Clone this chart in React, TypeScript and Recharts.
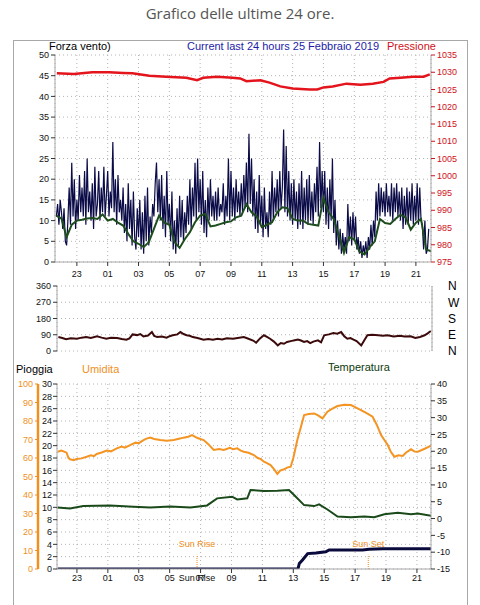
import React from "react";
import { LineChart, Line, XAxis, YAxis, CartesianGrid, ReferenceLine } from "recharts";

// Weather station: last 24 hours. Time is in hours from midnight of the 24th
// (23 = 23:00, 25 = 01:00 of the 25th, 45 = 21:00).

const FONT = "'Liberation Sans', Arial, sans-serif";

const hourTicks = [23, 25, 27, 29, 31, 33, 35, 37, 39, 41, 43, 45];
const hourLabels = ["23", "01", "03", "05", "07", "09", "11", "13", "15", "17", "19", "21"];

// wind gust, one reading every 5 minutes from 21:40
const GUST_START = 21 + 40 / 60;
const gust = [
  11, 14, 9, 15,
  12, 8, 13, 5, 4, 10, 18, 9, 24, 11, 20, 8,
  15, 10, 21, 12, 18, 11, 22, 9, 25, 12, 17, 10,
  19, 8, 23, 11, 14, 22, 10, 18, 12, 23, 11, 16,
  22, 11, 17, 13, 29, 12, 20, 9, 21, 12, 15, 10,
  18, 7, 14, 5, 19, 8, 15, 4, 17, 6, 3, 13,
  6, 15, 3, 12, 2, 16, 5, 18, 4, 11, 7, 14,
  11, 19, 24, 12, 20, 10, 21, 8, 16, 6, 22, 9,
  14, 5, 17, 3, 10, 2, 13, 4, 16, 6, 15, 5,
  12, 7, 16, 9, 20, 8, 18, 11, 24, 10, 25, 12,
  20, 9, 22, 7, 15, 6, 18, 10, 20, 11, 16, 10,
  17, 10, 18, 11, 14, 12, 19, 9, 16, 11, 25, 10,
  22, 11, 18, 10, 20, 12, 17, 11, 19, 12, 21, 13,
  24, 12, 31, 14, 25, 11, 20, 8, 17, 7, 21, 9,
  16, 6, 18, 8, 12, 6, 17, 9, 22, 10, 18, 12,
  20, 11, 22, 13, 18, 32, 12, 28, 11, 22, 10, 19,
  9, 20, 10, 17, 8, 19, 9, 22, 8, 18, 10, 20,
  9, 21, 10, 17, 9, 19, 12, 23, 11, 29, 13, 22,
  12, 22, 9, 18, 8, 20, 10, 25, 7, 15, 4, 10,
  3, 8, 2, 7, 3, 6, 2, 14, 5, 11, 4, 12,
  5, 11, 3, 6, 2, 5, 1, 4, 2, 5, 1, 6,
  3, 9, 4, 10, 6, 17, 10, 19, 11, 18, 12, 17,
  11, 19, 12, 16, 11, 19, 10, 18, 12, 19, 11, 17,
  10, 18, 8, 16, 9, 18, 9, 17, 10, 19, 9, 16,
  10, 19, 9, 18, 10, 9, 3, 10, 2, 3, 8,
];

// average wind, one reading every 20 minutes from 21:40
const AVG_START = 21 + 40 / 60;
const windAvg = [
  11.2, 10.5, 6, 9, 10, 10.2, 10.5, 10.6, 10.4, 11.5, 10, 10.4, 9.5, 8.8, 6.8, 5,
  4.4, 3.6, 4.8, 8, 11.2, 9.5, 9, 4.8, 3.4, 5.5, 7.2, 9.6, 11.2, 11.6, 8.6, 8.8,
  9.2, 9.6, 9.8, 10.8, 11.2, 14, 12, 11, 8.4, 9, 9.6, 12, 13.2, 13, 10.4, 10,
  10, 9.2, 9, 8.8, 15.5, 12, 10.4, 6.4, 2.2, 6, 5.5, 2.5, 1.8, 3.6, 5, 10.4,
  9.4, 9.2, 10.4, 11.4, 10.8, 7.8, 9.5, 10.4, 3, 2.6,
];

const pressTime = [21.7, 22.8, 24.0, 25.1, 26.0, 26.6, 27.7, 28.8, 30.1, 30.8, 31.2, 32.1, 33.1, 33.6, 34.0, 34.9, 35.5, 36.2, 37.0, 38.1, 38.6, 39.0, 39.6, 40.5, 41.4, 42.2, 42.9, 43.3, 44.0, 44.8, 45.5, 45.9];
const pressure = [1029.7, 1029.5, 1030.0, 1030.0, 1029.8, 1029.7, 1029.0, 1028.7, 1028.4, 1027.7, 1028.4, 1028.7, 1028.4, 1028.2, 1027.4, 1027.7, 1027.0, 1025.9, 1025.3, 1025.0, 1025.0, 1025.6, 1025.9, 1026.7, 1026.4, 1026.7, 1027.2, 1028.2, 1028.4, 1028.7, 1028.7, 1029.4];

const dirTime = [21.8, 22.05, 22.3, 22.6, 23.0, 23.3, 23.6, 23.9, 24.3, 24.6, 24.9, 25.2, 25.6, 25.9, 26.2, 26.4, 26.6, 26.9, 27.1, 27.3, 27.6, 27.85, 28.0, 28.2, 28.5, 28.8, 29.0, 29.2, 29.5, 29.7, 29.9, 30.1, 30.3, 30.5, 30.8, 31.2, 31.5, 31.8, 32.1, 32.4, 32.7, 33.1, 33.4, 33.8, 34.1, 34.4, 34.6, 34.85, 35.1, 35.3, 35.5, 35.75, 36.0, 36.2, 36.4, 36.6, 36.9, 37.1, 37.3, 37.5, 37.7, 37.9, 38.1, 38.3, 38.6, 38.8, 39.0, 39.3, 39.6, 39.85, 40.1, 40.3, 40.5, 40.7, 40.9, 41.1, 41.4, 41.6, 41.8, 42.1, 42.5, 42.8, 43.1, 43.5, 43.9, 44.2, 44.6, 44.9, 45.2, 45.5, 45.7, 45.9];
const direction = [77, 72, 65, 70, 68, 74, 77, 72, 81, 74, 68, 73, 72, 66, 63, 70, 92, 88, 94, 81, 86, 105, 84, 77, 80, 74, 82, 87, 92, 105, 94, 87, 84, 77, 72, 63, 66, 62, 68, 64, 70, 68, 72, 77, 68, 58, 46, 70, 87, 78, 68, 52, 31, 44, 40, 50, 56, 60, 63, 58, 50, 55, 44, 52, 59, 48, 87, 92, 100, 96, 105, 82, 68, 72, 63, 55, 31, 60, 87, 90, 87, 84, 87, 81, 84, 80, 81, 72, 78, 87, 98, 111];

const humTime = [21.75, 22.0, 22.33, 22.45, 22.55, 22.8, 22.98, 23.3, 23.63, 23.9, 24.1, 24.28, 24.6, 24.93, 25.2, 25.58, 25.9, 26.1, 26.44, 26.8, 27.0, 27.31, 27.5, 27.74, 28.0, 28.39, 28.8, 29.26, 29.6, 29.9, 30.2, 30.45, 30.8, 31.2, 31.5, 31.85, 32.2, 32.5, 32.9, 33.1, 33.37, 33.6, 33.8, 34.1, 34.45, 34.7, 34.9, 35.1, 35.3, 35.53, 35.75, 35.97, 36.15, 36.4, 36.6, 36.83, 37.0, 37.26, 37.5, 37.7, 38.0, 38.35, 38.6, 38.89, 39.21, 39.5, 39.86, 40.3, 40.73, 41.0, 41.38, 41.8, 42.13, 42.4, 42.68, 43.11, 43.3, 43.54, 43.8, 44.08, 44.3, 44.62, 44.85, 45.06, 45.5, 45.92];
const humidity = [63.4, 64.0, 62.9, 60.0, 59.3, 58.8, 59.5, 59.8, 60.7, 61.5, 61.0, 62.2, 63.0, 64, 63.6, 65.2, 66.2, 65.6, 67, 68.3, 68.0, 69.7, 70.5, 71, 70.3, 69.7, 69.3, 69.7, 70.4, 71, 71.5, 72.4, 70.8, 69.7, 67.5, 64.3, 64.8, 64.3, 65.5, 64.8, 65.2, 64.0, 63.4, 62.8, 61.6, 60.0, 59.4, 58, 57.2, 56.2, 54.0, 51.4, 53.2, 53.9, 54.8, 55.3, 60.0, 69.7, 77, 83.2, 83.8, 84.1, 83.0, 81.4, 85, 86.5, 88.1, 88.8, 88.6, 87.5, 85.9, 84.0, 82.3, 78, 72.4, 67, 63.5, 60.7, 61.5, 61.1, 63.0, 64.7, 63.5, 63.4, 65.0, 66.7];

const tempTime = [21.75, 22.55, 23.41, 25.14, 26.66, 27.74, 29.04, 30.34, 31.42, 32.07, 33.04, 33.37, 34.02, 34.23, 35.1, 35.97, 36.72, 37.05, 37.7, 38.35, 38.67, 39.21, 39.86, 40.73, 41.59, 42.24, 42.89, 43.76, 44.62, 45.06, 45.92];
const temperature = [3.3, 3.0, 3.7, 3.9, 3.5, 3.3, 3.6, 3.3, 3.9, 6.0, 6.5, 5.7, 6.0, 8.5, 8.2, 8.3, 8.5, 7.0, 4.0, 3.7, 4.2, 2.7, 0.6, 0.4, 0.6, 0.4, 1.3, 1.7, 1.3, 1.5, 0.8];

const rainTime = [21.75, 37.3, 37.39, 37.61, 37.93, 38.46, 39.1, 39.32, 41.48, 41.9, 42.8, 45.92];
const rain = [0, 0, 0.9, 1.5, 2.5, 2.6, 2.8, 3.1, 3.1, 3.2, 3.3, 3.3];

const SUN_RISE = 30.77;
const SUN_SET = 41.85;

const compass = ["N", "E", "S", "W", "N"];

const range = (a: number, b: number, s: number) => {
  const r: number[] = [];
  for (let v = a; v <= b + 1e-9; v += s) r.push(+v.toFixed(3));
  return r;
};

const gustData = gust.map((v, i) => ({ t: GUST_START + i / 12, v }));
const avgData = windAvg.map((v, i) => ({ t: AVG_START + i / 3, v }));
const pressData = pressure.map((v, i) => ({ t: pressTime[i], v }));
const dirData = direction.map((v, i) => ({ t: dirTime[i], v }));
const humData = humidity.map((v, i) => ({ t: humTime[i], v }));
const tempData = temperature.map((v, i) => ({ t: tempTime[i], v }));
const rainData = rain.map((v, i) => ({ t: rainTime[i], v }));

const fmtHour = (v: number) => hourLabels[hourTicks.indexOf(v)] ?? "";
const minorHours = range(22, 45.5, 0.5);

const tickFont = { fontSize: 9, fontFamily: FONT, fill: "#111" };
const frame = "#a8a8a8";
const grid = "#b4b4b4";

const TOP_DOMAIN = [21.58, 45.98];
const MID_DOMAIN = [21.71, 45.98];
const BOT_DOMAIN = [21.71, 45.91];

const RED = "#d01020";
const ORANGE = "#f0901e";

const text = (s: string, left: number, top: number, color: string, size = 11) => (
  <span
    style={{
      position: "absolute",
      left,
      top,
      color,
      fontSize: size,
      fontFamily: FONT,
      lineHeight: 1,
      whiteSpace: "nowrap",
    }}
  >
    {s}
  </span>
);

// axes stack outward in the order: id "...0" next to the plot, then "...1", "...2"
export default function App() {
  return (
    <div style={{ position: "absolute", left: 0, top: 0, width: 480, height: 605, background: "#fff", overflow: "hidden" }}>
      <div
        style={{
          position: "absolute",
          left: 0,
          width: 480,
          top: 3,
          textAlign: "center",
          fontFamily: "'Open Sans', sans-serif",
          fontSize: 15,
          color: "#555",
        }}
      >
        Grafico delle ultime 24 ore.
      </div>
      <div style={{ position: "absolute", left: 13, top: 40, width: 453, height: 600, border: `1px solid ${frame}` }} />

      {text("Forza vento)", 49, 41, "#000")}
      {text("Current last 24 hours 25 Febbraio 2019", 187, 41, "#1c1ca8")}
      {text("Pressione", 387, 41, RED)}
      {text("Pioggia", 16, 364, "#000")}
      {text("Umidita", 82, 364, ORANGE)}
      {text("Temperatura", 328, 362, "#0c3a0c")}

      {/* wind speed + pressure */}
      <div style={{ position: "absolute", left: 0, top: 0 }}>
        <LineChart width={480} height={292} margin={{ top: 55, right: 0, bottom: 0, left: 0 }}>
          <XAxis xAxisId="x1" type="number" dataKey="t" domain={TOP_DOMAIN} allowDataOverflow ticks={hourTicks} interval={0} tickFormatter={fmtHour} tick={tickFont} tickSize={4} tickMargin={5} axisLine={{ stroke: frame }} tickLine={{ stroke: "#333" }} height={30} />
          <XAxis xAxisId="x0" type="number" dataKey="t" domain={TOP_DOMAIN} allowDataOverflow ticks={minorHours} interval={0} tick={false} tickSize={2} axisLine={false} tickLine={{ stroke: "#333" }} height={0} />
          <YAxis yAxisId="l1" domain={[0, 50]} allowDataOverflow ticks={range(0, 50, 5)} interval={0} tick={tickFont} tickSize={4} tickMargin={2} axisLine={{ stroke: frame }} tickLine={{ stroke: "#333" }} width={55} />
          <YAxis yAxisId="l0" domain={[0, 50]} allowDataOverflow ticks={range(0, 50, 1)} interval={0} tick={false} tickSize={2} axisLine={false} tickLine={{ stroke: "#333" }} width={0} />
          <YAxis yAxisId="r1" orientation="right" domain={[975, 1035]} allowDataOverflow ticks={range(975, 1035, 5)} interval={0} tick={{ ...tickFont, fill: RED }} tickSize={4} tickMargin={2} axisLine={{ stroke: frame }} tickLine={{ stroke: RED }} width={49} />
          <YAxis yAxisId="r0" orientation="right" domain={[975, 1035]} allowDataOverflow ticks={range(975, 1035, 1)} interval={0} tick={false} tickSize={2} axisLine={false} tickLine={{ stroke: RED }} width={0} />
          <CartesianGrid xAxisId="x1" yAxisId="l1" stroke={grid} strokeDasharray="1 3" />
          <Line xAxisId="x1" yAxisId="r1" data={pressData} dataKey="v" type="linear" stroke="#e4141c" strokeWidth={2.5} dot={false} isAnimationActive={false} />
          <Line xAxisId="x1" yAxisId="l1" data={gustData} dataKey="v" type="linear" stroke="#0b0b48" strokeWidth={1.2} dot={false} isAnimationActive={false} />
          <Line xAxisId="x1" yAxisId="l1" data={avgData} dataKey="v" type="linear" stroke="#1e4d1e" strokeWidth={2} dot={false} isAnimationActive={false} />
        </LineChart>
      </div>

      {/* wind direction */}
      <div style={{ position: "absolute", left: 0, top: 280 }}>
        <LineChart width={480} height={80} margin={{ top: 6, right: 0, bottom: 9, left: 0 }}>
          <XAxis xAxisId="x1" type="number" dataKey="t" domain={MID_DOMAIN} allowDataOverflow ticks={hourTicks} interval={0} tick={false} tickLine={false} axisLine={{ stroke: frame }} height={0} />
          <YAxis yAxisId="l1" domain={[0, 360]} allowDataOverflow ticks={[0, 90, 180, 270, 360]} interval={0} tick={tickFont} tickSize={4} tickMargin={2} axisLine={{ stroke: frame }} tickLine={{ stroke: "#333" }} width={57} />
          <YAxis yAxisId="l0" domain={[0, 360]} allowDataOverflow ticks={range(0, 360, 30)} interval={0} tick={false} tickSize={2} axisLine={false} tickLine={{ stroke: "#333" }} width={0} />
          <YAxis yAxisId="r1" orientation="right" domain={[0, 360]} allowDataOverflow ticks={[0, 90, 180, 270, 360]} interval={0} tickFormatter={(v: number) => compass[v / 90]} tick={{ fontSize: 12, fontFamily: FONT, fill: "#000" }} tickLine={false} tickSize={0} tickMargin={16} axisLine={{ stroke: frame }} width={48} />
          <CartesianGrid xAxisId="x1" yAxisId="l1" stroke={grid} strokeDasharray="1 3" />
          <Line xAxisId="x1" yAxisId="l1" data={dirData} dataKey="v" type="linear" stroke="#3c0a0a" strokeWidth={2} dot={false} isAnimationActive={false} />
        </LineChart>
      </div>

      {/* rain, humidity, temperature */}
      <div style={{ position: "absolute", left: 0, top: 360 }}>
        <LineChart width={480} height={245} margin={{ top: 24, right: 0, bottom: 0, left: 0 }}>
          <XAxis xAxisId="x1" type="number" dataKey="t" domain={BOT_DOMAIN} allowDataOverflow ticks={hourTicks} interval={0} tickFormatter={fmtHour} tick={tickFont} tickSize={4} tickMargin={2} axisLine={{ stroke: frame }} tickLine={{ stroke: "#333" }} height={36} />
          <XAxis xAxisId="x0" type="number" dataKey="t" domain={BOT_DOMAIN} allowDataOverflow ticks={minorHours} interval={0} tick={false} tickSize={2} axisLine={false} tickLine={{ stroke: "#333" }} height={0} />
          <YAxis yAxisId="l2" domain={[0, 100]} allowDataOverflow ticks={range(0, 100, 10)} interval={0} tick={{ ...tickFont, fill: ORANGE }} tickSize={3} tickMargin={2} axisLine={{ stroke: ORANGE, strokeWidth: 2.5 }} tickLine={{ stroke: ORANGE }} width={38} />
          <YAxis yAxisId="l1" domain={[0, 30]} allowDataOverflow ticks={range(0, 30, 2)} interval={0} tick={tickFont} tickSize={4} tickMargin={1} axisLine={{ stroke: frame }} tickLine={{ stroke: "#333" }} width={19} />
          <YAxis yAxisId="l0" domain={[0, 30]} allowDataOverflow ticks={range(0, 30, 0.5)} interval={0} tick={false} tickSize={2} axisLine={false} tickLine={{ stroke: "#333" }} width={0} />
          <YAxis yAxisId="r1" orientation="right" domain={[-15, 40]} allowDataOverflow ticks={range(-15, 40, 5)} interval={0} tick={tickFont} tickSize={4} tickMargin={2} axisLine={{ stroke: frame }} tickLine={{ stroke: "#333" }} width={49} />
          <YAxis yAxisId="r0" orientation="right" domain={[-15, 40]} allowDataOverflow ticks={range(-15, 40, 1)} interval={0} tick={false} tickSize={2} axisLine={false} tickLine={{ stroke: "#333" }} width={0} />
          <CartesianGrid xAxisId="x1" yAxisId="l1" stroke={grid} strokeDasharray="1 3" />
          <ReferenceLine xAxisId="x1" yAxisId="l1" segment={[{ x: SUN_RISE, y: 0 }, { x: SUN_RISE, y: 2.3 }]} stroke={ORANGE} strokeDasharray="1 1" label={{ value: "Sun Rise", position: "top", offset: 8, fill: ORANGE, fontSize: 9, fontFamily: FONT }} />
          <ReferenceLine xAxisId="x1" yAxisId="l1" segment={[{ x: SUN_SET, y: 0 }, { x: SUN_SET, y: 2.3 }]} stroke={ORANGE} strokeDasharray="1 1" label={{ value: "Sun Set", position: "top", offset: 8, fill: ORANGE, fontSize: 9, fontFamily: FONT }} />
          <ReferenceLine xAxisId="x1" yAxisId="l1" x={SUN_RISE} stroke="none" label={{ value: "Sun Rise", position: "bottom", offset: 6, fill: "#111", fontSize: 9, fontFamily: FONT }} />
          <Line xAxisId="x1" yAxisId="l2" data={humData} dataKey="v" type="linear" stroke="#f39423" strokeWidth={2} dot={false} isAnimationActive={false} />
          <Line xAxisId="x1" yAxisId="r1" data={tempData} dataKey="v" type="linear" stroke="#1a4a1a" strokeWidth={2} dot={false} isAnimationActive={false} />
          <Line xAxisId="x1" yAxisId="l1" data={rainData} dataKey="v" type="linear" stroke="#0a0a3c" strokeWidth={3} dot={false} isAnimationActive={false} />
        </LineChart>
      </div>
    </div>
  );
}
